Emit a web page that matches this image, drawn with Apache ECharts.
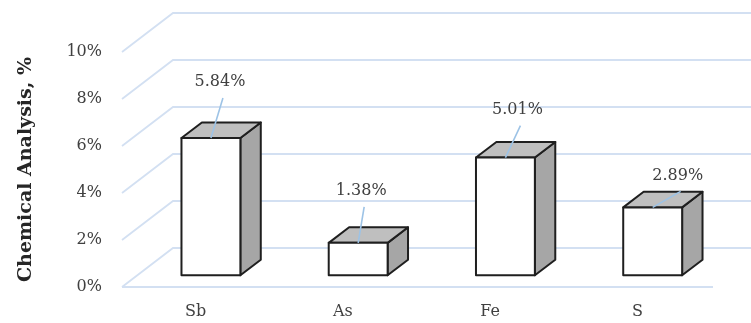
<!DOCTYPE html>
<html>
<head>
<meta charset="utf-8">
<script src="https://cdn.jsdelivr.net/npm/echarts@6/dist/echarts.min.js"></script>
<style>
  html, body { margin: 0; padding: 0; background: #fff; }
  #chart { width: 751px; height: 323px; }
</style>
</head>
<body>
<div id="chart"></div>
<script>
// data
var categories = ['Sb', 'As', 'Fe', 'S'];
var values = [5.84, 1.38, 5.01, 2.89];
var yTicks = [0, 2, 4, 6, 8, 10];

// label placement (pixels from the top-front edge of each bar)
var labelOffsets = [[9, -56], [3, -52], [12, -48], [25, -32]];

var DEPTH_X = 51, DEPTH_Y = -39;   // full floor depth
var FONT = 'DejaVu Serif';
var GRID_COLOR = '#d3e0f2';

var chart = echarts.init(document.getElementById('chart'));

// 3d-ish floor / back wall gridlines
function renderGrid(params, api) {
    var v = api.value(0);
    var cs = params.coordSys;
    var y = api.coord([0, v])[1];
    var x0 = cs.x, x1 = cs.x + cs.width;
    var pts = [[x0, y], [x0 + DEPTH_X, y + DEPTH_Y], [x1 + DEPTH_X, y + DEPTH_Y]];
    var kids = [{
        type: 'polyline',
        shape: { points: pts },
        style: { stroke: GRID_COLOR, lineWidth: 1.8, fill: null }
    }];
    if (v === 0) {
        kids.push({
            type: 'line',
            shape: { x1: x0, y1: y, x2: x1 + 2, y2: y },
            style: { stroke: GRID_COLOR, lineWidth: 1.8 }
        });
    }
    return { type: 'group', children: kids };
}

function renderBar(params, api) {
    var idx = api.value(0), val = api.value(1);
    var top = api.coord([idx, val]);
    var base = api.coord([idx, 0]);
    var bw = api.size([1, 0])[0] * 0.4;
    var fx = DEPTH_X * 0.3, fy = DEPTH_Y * 0.3;   // front face sits 30% deep
    var sx = DEPTH_X * 0.4, sy = DEPTH_Y * 0.4;   // bar depth
    var x0 = top[0] - bw / 2 + fx, x1 = top[0] + bw / 2 + fx;
    var yT = top[1] + fy, yB = base[1] + fy;
    var edge = { stroke: '#1f1f1f', lineWidth: 2, lineJoin: 'round' };

    var cx = top[0] + fx, cy = yT;
    var off = labelOffsets[idx];
    var lx = cx + off[0], ly = cy + off[1];

    return {
        type: 'group',
        children: [
            {
                type: 'polygon',
                shape: { points: [[x1, yT], [x1 + sx, yT + sy], [x1 + sx, yB + sy], [x1, yB]] },
                style: Object.assign({ fill: '#a6a6a6' }, edge)
            },
            {
                type: 'polygon',
                shape: { points: [[x0, yT], [x0 + sx, yT + sy], [x1 + sx, yT + sy], [x1, yT]] },
                style: Object.assign({ fill: '#bfbfbf' }, edge)
            },
            {
                type: 'rect',
                shape: { x: x0, y: yT, width: bw, height: yB - yT },
                style: Object.assign({ fill: '#ffffff' }, edge)
            },
            {
                type: 'line',
                shape: { x1: cx, y1: cy, x2: lx + 3, y2: ly + 16 },
                style: { stroke: '#9dc3e6', lineWidth: 1.6 }
            },
            {
                type: 'text',
                x: lx, y: ly,
                style: {
                    text: val.toFixed(2) + '%',
                    fill: '#404040',
                    font: '16px "' + FONT + '"',
                    align: 'center',
                    verticalAlign: 'middle'
                }
            }
        ]
    };
}

chart.setOption({
    animation: false,
    grid: { left: 122, top: 52, width: 589, height: 235, containLabel: false },
    xAxis: {
        type: 'category',
        data: categories,
        axisLine: { show: false },
        axisTick: { show: false },
        splitLine: { show: false },
        axisLabel: { margin: 17, color: '#404040', fontFamily: FONT, fontSize: 16 }
    },
    yAxis: {
        type: 'value',
        min: 0, max: 10, interval: 2,
        name: 'Chemical Analysis, %',
        nameLocation: 'middle',
        nameRotate: 90,
        nameGap: 86,
        nameTextStyle: { color: '#262626', fontFamily: FONT, fontSize: 19, fontWeight: 'bold' },
        axisLine: { show: false },
        axisTick: { show: false },
        splitLine: { show: false },
        axisLabel: { formatter: '{value}%', margin: 20, color: '#404040', fontFamily: FONT, fontSize: 16 }
    },
    series: [
        {
            type: 'custom',
            z: 1,
            silent: true,
            renderItem: renderGrid,
            data: yTicks.map(function (t) { return [t]; }),
            encode: { y: 0 }
        },
        {
            type: 'custom',
            z: 2,
            renderItem: renderBar,
            data: values.map(function (v, i) { return [i, v]; }),
            encode: { x: 0, y: 1 }
        }
    ]
});
</script>
</body>
</html>
